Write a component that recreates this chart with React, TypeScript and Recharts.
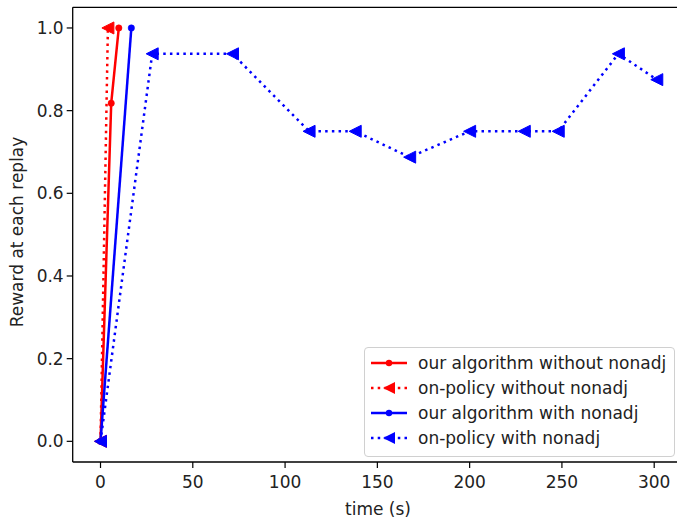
import { CartesianGrid, ComposedChart, Line, ReferenceLine, XAxis, YAxis } from "recharts";

// time (s) / reward pairs
const ourNoAdjTime = [0, 5.8, 9.9];
const ourNoAdjReward = [0, 0.818, 1.0];

const onPolicyNoAdjTime = [0, 4];
const onPolicyNoAdjReward = [0, 1.0];

const ourAdjTime = [0, 16.7];
const ourAdjReward = [0, 1.0];

const onPolicyAdjTime = [0, 28, 71.5, 113, 138, 167.5, 200, 229.6, 248, 280.6, 301.4];
const onPolicyAdjReward = [0, 0.9375, 0.9375, 0.75, 0.75, 0.6875, 0.75, 0.75, 0.75, 0.9375, 0.875];

const xTicks = [0, 50, 100, 150, 200, 250, 300];
const yTicks = [0, 0.2, 0.4, 0.6, 0.8, 1.0];

const RED = "#ff0000";
const BLUE = "#0000ff";
const DOTTED = "2.5 4.2";
const FONT = "DejaVu Sans, sans-serif";
const X_DOMAIN: [number, number] = [-15.07, 316.47];
const Y_DOMAIN: [number, number] = [-0.05, 1.05];

const toPoints = (xs: number[], ys: number[]) => xs.map((x, i) => ({ x, y: ys[i] }));

function triangleLeft(color: string) {
  return (props: any) => {
    const { cx, cy, index } = props;
    if (cx == null || cy == null) return <g key={`t-${index}`} />;
    const h = 6;
    return (
      <path
        key={`t-${index}`}
        d={`M${cx - h},${cy} L${cx + h},${cy - h} L${cx + h},${cy + h} Z`}
        fill={color}
        stroke={color}
        strokeWidth={1}
      />
    );
  };
}

const series = [
  { name: "our algorithm without nonadj", color: RED, dotted: false, data: toPoints(ourNoAdjTime, ourNoAdjReward) },
  { name: "on-policy without nonadj", color: RED, dotted: true, data: toPoints(onPolicyNoAdjTime, onPolicyNoAdjReward) },
  { name: "our algorithm with nonadj", color: BLUE, dotted: false, data: toPoints(ourAdjTime, ourAdjReward) },
  { name: "on-policy with nonadj", color: BLUE, dotted: true, data: toPoints(onPolicyAdjTime, onPolicyAdjReward) },
];

const tickStyle = { fill: "#222", fontSize: 17, fontFamily: FONT };

function LegendBox() {
  return (
    <div
      style={{
        position: "absolute",
        left: 364,
        top: 347,
        width: 311,
        height: 110,
        boxSizing: "border-box",
        border: "1px solid #d0d0d0",
        borderRadius: 4,
        background: "rgba(255,255,255,0.8)",
        fontFamily: FONT,
        fontSize: 17,
        color: "#222",
      }}
    >
      {series.map((s, i) => (
        <div
          key={s.name}
          style={{ position: "absolute", left: 0, top: 15 + i * 25 - 12, height: 24, display: "flex", alignItems: "center" }}
        >
          <svg width={48} height={24} style={{ marginLeft: 5 }}>
            <line
              x1={1}
              x2={37}
              y1={12}
              y2={12}
              stroke={s.color}
              strokeWidth={2.5}
              strokeDasharray={s.dotted ? DOTTED : undefined}
            />
            {s.dotted ? (
              <path d={`M${19 - 6},12 L${19 + 6},6 L${19 + 6},18 Z`} fill={s.color} />
            ) : (
              <circle cx={19} cy={12} r={3.2} fill={s.color} />
            )}
          </svg>
          <span style={{ whiteSpace: "nowrap" }}>{s.name}</span>
        </div>
      ))}
    </div>
  );
}

export default function App() {
  return (
    <div
      style={{
        position: "fixed",
        left: 0,
        top: 0,
        width: 677,
        height: 520,
        overflow: "hidden",
        background: "#fff",
      }}
    >
      <ComposedChart width={700} height={520} margin={{ top: 7.3, right: 15.4, left: 0, bottom: 0 }}>
        <CartesianGrid stroke="none" />
        <XAxis
          type="number"
          dataKey="x"
          domain={X_DOMAIN}
          ticks={xTicks}
          allowDataOverflow
          height={58}
          tick={tickStyle}
          tickSize={6}
          tickMargin={8}
          tickLine={{ stroke: "#000", strokeWidth: 1.2 }}
          axisLine={{ stroke: "#000", strokeWidth: 1.3 }}
        />
        <YAxis
          type="number"
          dataKey="y"
          domain={Y_DOMAIN}
          ticks={yTicks}
          allowDataOverflow
          width={72.7}
          tick={tickStyle}
          tickSize={6}
          tickMargin={3}
          tickFormatter={(v: number) => v.toFixed(1)}
          tickLine={{ stroke: "#000", strokeWidth: 1.2 }}
          axisLine={{ stroke: "#000", strokeWidth: 1.3 }}
        />
        <ReferenceLine y={Y_DOMAIN[1]} stroke="#000" strokeWidth={1.3} />
        <ReferenceLine x={X_DOMAIN[1]} stroke="#000" strokeWidth={1.3} />
        {series.map((s) => (
          <Line
            key={s.name}
            data={s.data}
            dataKey="y"
            name={s.name}
            type="linear"
            stroke={s.color}
            strokeWidth={2.5}
            strokeDasharray={s.dotted ? DOTTED : undefined}
            dot={s.dotted ? triangleLeft(s.color) : { r: 3.2, fill: s.color, stroke: s.color, strokeWidth: 0.5 }}
            activeDot={false}
            isAnimationActive={false}
          />
        ))}
      </ComposedChart>
      <div
        style={{
          position: "absolute",
          left: 378,
          top: 509,
          transform: "translate(-50%, -50%)",
          fontFamily: FONT,
          fontSize: 17,
          color: "#222",
          whiteSpace: "nowrap",
        }}
      >
        time (s)
      </div>
      <div
        style={{
          position: "absolute",
          left: 17,
          top: 232,
          transform: "translate(-50%, -50%) rotate(-90deg)",
          fontFamily: FONT,
          fontSize: 17,
          color: "#222",
          whiteSpace: "nowrap",
        }}
      >
        Reward at each replay
      </div>
      <LegendBox />
    </div>
  );
}
